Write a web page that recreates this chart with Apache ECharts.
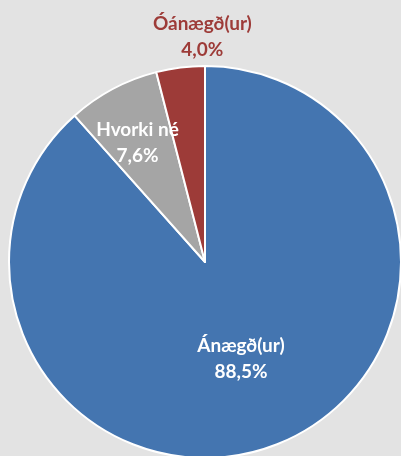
<!DOCTYPE html>
<html>
<head>
<meta charset="utf-8">
<script src="https://cdn.jsdelivr.net/npm/echarts@6/dist/echarts.min.js"></script>
<style>
html, body { margin: 0; padding: 0; background: #e3e3e3; }
#pie { width: 401px; height: 456px; }
</style>
</head>
<body>
<div id="pie"></div>
<script>
// gögn
var flokkar = ['Ánægð(ur)', 'Hvorki né', 'Óánægð(ur)'];
var gildi = [88.5, 7.6, 4.0];
var litir = ['#4475b0', '#a5a5a5', '#9d3b38'];

var pieChart = echarts.init(document.getElementById('pie'));

var labelOffsets = [[0, 2], [-20, -30], [10, -125]];
var labelColors = ['#ffffff', '#ffffff', '#9d3b38'];

var pieData = flokkar.map(function (nafn, i) {
    return {
        name: nafn,
        value: gildi[i],
        itemStyle: { color: litir[i] },
        label: { offset: labelOffsets[i], color: labelColors[i] }
    };
});

var pieOption = {
    backgroundColor: '#e3e3e3',
    animation: false,
    series: [{
        type: 'pie',
        clockwise: true,
        startAngle: 90,
        center: [205, 262],
        radius: [0, 196],
        data: pieData,
        itemStyle: {
            borderColor: '#ffffff',
            borderWidth: 2
        },
        label: {
            show: true,
            position: 'inside',
            fontFamily: 'Lato',
            fontWeight: 'bold',
            fontSize: 19,
            lineHeight: 26,
            align: 'center',
            formatter: function (p) {
                return p.name + '\n' + p.value.toFixed(1).replace('.', ',') + '%';
            }
        },
        labelLine: { show: false },
        emphasis: { disabled: true }
    }]
};
pieChart.setOption(pieOption);
</script>
</body>
</html>
